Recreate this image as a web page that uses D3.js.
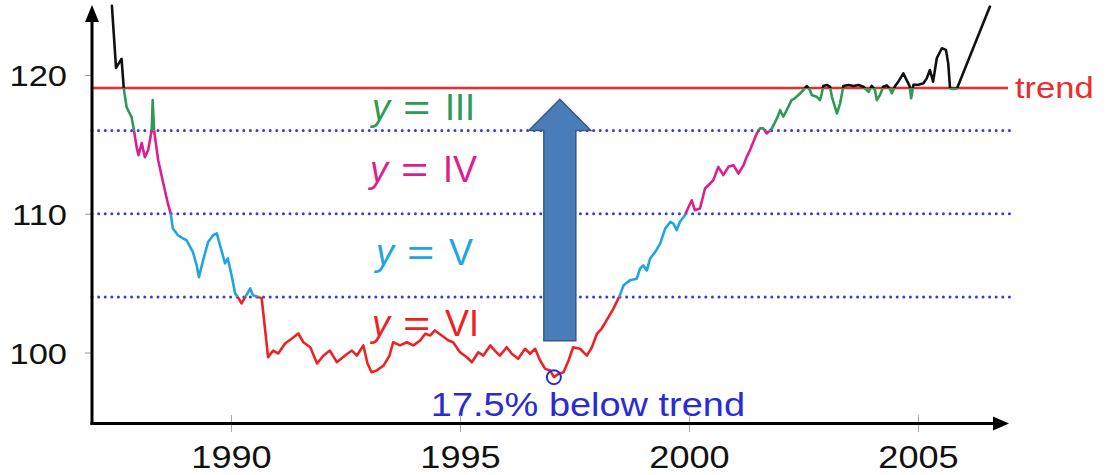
<!DOCTYPE html>
<html>
<head>
<meta charset="utf-8">
<script src="https://cdn.jsdelivr.net/npm/d3@7/dist/d3.min.js"></script>
<style>
  html, body { margin: 0; padding: 0; background: #fff; }
  svg { display: block; }
  text { font-family: "Liberation Sans", Arial, Helvetica, sans-serif; }
</style>
</head>
<body>
<script>
// ---------------- data ----------------
const dates = [
  1987.40,1987.49,1987.61,1987.66,1987.72,1987.83,1987.88,1987.94,1987.98,1988.05,
  1988.12,1988.19,1988.27,1988.29,1988.32,1988.41,1988.49,1988.62,1988.68,1988.73,
  1988.84,1988.95,1989.03,1989.11,1989.17,1989.25,1989.30,1989.39,1989.50,1989.61,
  1989.69,1989.76,1989.87,1989.93,1990.02,1990.09,1990.15,1990.23,1990.31,1990.42,
  1990.48,1990.63,1990.67,1990.81,1990.92,1991.03,1991.18,1991.33,1991.47,1991.58,
  1991.73,1991.88,1992.02,1992.16,1992.31,1992.49,1992.64,1992.75,1992.89,1992.98,
  1993.07,1993.18,1993.33,1993.46,1993.54,1993.69,1993.84,1993.98,1994.13,1994.24,
  1994.35,1994.45,1994.60,1994.75,1994.85,1995.00,1995.15,1995.26,1995.40,1995.51,
  1995.66,1995.76,1995.87,1996.02,1996.13,1996.27,1996.42,1996.53,1996.64,1996.75,
  1996.86,1996.97,1997.05,1997.15,1997.26,1997.37,1997.47,1997.62,1997.77,1997.88,
  1997.99,1998.09,1998.20,1998.35,1998.49,1998.57,1998.71,1998.86,1998.93,1999.00,
  1999.08,1999.15,1999.26,1999.37,1999.48,1999.59,1999.66,1999.73,1999.80,1999.91,
  1999.99,2000.06,2000.13,2000.24,2000.35,2000.46,2000.53,2000.64,2000.75,2000.86,
  2000.97,2001.08,2001.19,2001.26,2001.33,2001.48,2001.55,2001.62,2001.70,2001.81,
  2001.92,2001.99,2002.06,2002.17,2002.24,2002.31,2002.39,2002.50,2002.57,2002.64,
  2002.68,2002.79,2002.86,2002.90,2002.93,2003.01,2003.08,2003.12,2003.23,2003.30,
  2003.37,2003.48,2003.59,2003.70,2003.81,2003.92,2003.99,2004.06,2004.10,2004.17,
  2004.24,2004.32,2004.39,2004.43,2004.50,2004.57,2004.68,2004.75,2004.82,2004.85,
  2004.90,2005.01,2005.12,2005.19,2005.26,2005.33,2005.41,2005.52,2005.61,2005.66,
  2005.70,2005.77,2005.85,2006.57
];
const values = [
  124.98,120.51,121.16,119.00,117.69,116.97,116.03,114.80,114.22,115.09,
  114.08,114.58,116.03,118.19,116.03,113.86,112.66,110.76,110.06,108.95,
  108.45,108.23,108.09,107.60,107.24,106.28,105.42,106.64,107.96,108.45,
  108.59,107.73,106.43,106.79,105.44,104.26,103.99,103.54,103.99,104.62,
  104.12,103.97,103.90,99.66,100.14,99.93,100.65,101.01,101.37,100.74,
  100.38,99.21,99.78,100.14,99.30,99.78,100.14,99.78,100.51,99.21,
  98.58,98.70,99.06,99.78,100.74,100.51,100.74,100.51,100.87,101.35,
  101.23,101.59,101.23,100.87,100.74,100.02,99.66,99.30,100.02,99.78,
  100.51,100.14,99.78,100.38,99.91,99.55,100.27,99.91,100.27,99.42,
  98.82,98.70,98.22,98.46,98.58,99.42,100.38,100.27,99.78,100.38,
  101.35,101.71,102.31,103.16,104.12,104.84,105.20,105.32,106.04,106.28,
  105.92,106.77,107.24,107.85,108.93,109.41,109.29,108.81,109.41,109.89,
  110.49,110.97,110.25,110.38,111.82,112.18,112.42,113.38,112.78,113.38,
  113.50,112.90,113.50,114.10,114.58,115.79,116.15,116.15,115.79,116.15,
  116.87,117.47,116.99,117.71,118.19,118.32,118.56,118.92,119.20,118.92,
  118.56,118.43,118.19,118.68,119.20,119.28,119.15,118.43,117.23,117.96,
  119.20,119.28,119.20,119.28,119.15,118.79,119.22,118.92,118.19,118.56,
  119.15,119.25,118.97,118.68,119.20,119.52,120.12,119.64,119.18,118.32,
  119.30,119.30,119.40,119.76,120.36,119.52,121.21,121.93,121.81,120.84,
  119.03,119.00,119.02,124.93
];
const yTicks = [100, 110, 120];
const xTicks = [1990, 1995, 2000, 2005];
const trendValue = 119.06;
const bandBreaks = [116, 110, 104];
const bandColors = ["#111111", "#2e9a55", "#dc1f8c", "#21a5de", "#ee2222"];
const bandLabels = ["III", "IV", "V", "VI"];
const bandLabelValues = [117.7, 113.2, 107.2, 102.1];
const arrowYear = 1997.18;
const arrowRange = [100.85, 118.25];
const annotationText = "17.5% below trend";
const trendLabel = "trend";

// ---------------- layout ----------------
const W = 1107, H = 475;
const axisX = 92, axisY = 423.5;
const x = d3.scaleLinear().domain([1990, 2005]).range([231, 918]);
const y = d3.scaleLinear().domain([100, 120]).range([352.5, 75]);
const bandLabelX = [372, 370, 376, 372];

const svg = d3.select("body").append("svg").attr("width", W).attr("height", H);
const defs = svg.append("defs");

// band clip regions (top to bottom)
const edges = [0, y(trendValue), ...bandBreaks.map(v => y(v)), H];
bandColors.forEach((c, i) => {
  defs.append("clipPath").attr("id", "band" + i)
    .append("rect").attr("x", 0).attr("width", W)
    .attr("y", edges[i]).attr("height", edges[i + 1] - edges[i]);
});

// dotted band separators
svg.append("g").selectAll("line").data(bandBreaks).join("line")
  .attr("x1", axisX).attr("x2", 1012)
  .attr("y1", d => y(d)).attr("y2", d => y(d))
  .attr("stroke", "#3a3ad6").attr("stroke-width", 3)
  .attr("stroke-linecap", "round").attr("stroke-dasharray", "0 6.6");

// trend line
svg.append("line")
  .attr("x1", axisX).attr("x2", 1008)
  .attr("y1", y(trendValue)).attr("y2", y(trendValue))
  .attr("stroke", "#ee2a2a").attr("stroke-width", 2.5);
svg.append("text")
  .attr("transform", `translate(1015,${y(trendValue) + 10}) scale(1.15,1)`)
  .attr("font-size", 30).attr("fill", "#ee2a2a").text(trendLabel);

// band labels
const lg = svg.append("g");
bandLabels.forEach((lab, i) => {
  const cy = y(bandLabelValues[i]);
  const x0 = bandLabelX[i];
  const col = bandColors[i + 1];
  lg.append("text").attr("x", x0).attr("y", cy).attr("dy", "0.35em")
    .attr("font-size", 36).attr("font-style", "italic").attr("fill", col).text("y");
  lg.append("text").attr("transform", `translate(${x0 + 31},${cy}) scale(1.3,1)`)
    .attr("dy", "0.35em").attr("font-size", 36).attr("fill", col).text("=");
  lg.append("text").attr("x", x0 + 73).attr("y", cy).attr("dy", "0.35em")
    .attr("font-size", 36).attr("fill", col).text(lab);
});

// big arrow
const ax = x(arrowYear);
const tipY = y(arrowRange[1]), baseY = y(bandBreaks[0]), botY = y(arrowRange[0]);
const hw = 31, sw = 16;
svg.append("path")
  .attr("d", `M${ax},${tipY} L${ax + hw},${baseY} L${ax + sw},${baseY} L${ax + sw},${botY} L${ax - sw},${botY} L${ax - sw},${baseY} L${ax - hw},${baseY} Z`)
  .attr("fill", "#4a7cba").attr("stroke", "#35598a").attr("stroke-width", 1.5);

// data line, coloured by band
const pts = dates.map((d, i) => [d, values[i]]);
const line = d3.line().x(d => x(d[0])).y(d => y(d[1])).curve(d3.curveLinear);
bandColors.forEach((c, i) => {
  svg.append("path").datum(pts).attr("d", line)
    .attr("clip-path", `url(#band${i})`)
    .attr("fill", "none").attr("stroke", c).attr("stroke-width", 2.6)
    .attr("stroke-linejoin", "round").attr("stroke-linecap", "round");
});

// minimum marker + annotation
const minIdx = d3.minIndex(values);
const mx = x(dates[minIdx]), my = y(values[minIdx]);
svg.append("circle").attr("cx", mx).attr("cy", my).attr("r", 7)
  .attr("fill", "none").attr("stroke", "#2b2bd6").attr("stroke-width", 2);
svg.append("text")
  .attr("transform", `translate(${mx + 34},${my + 39}) scale(1.15,1)`)
  .attr("text-anchor", "middle").attr("font-size", 33).attr("fill", "#2b2bd6")
  .text(annotationText);

// axes
const gy = svg.append("g").attr("transform", `translate(${axisX},0)`)
  .call(d3.axisLeft(y).tickValues(yTicks).tickSize(7).tickFormat(d3.format("d")));
gy.select(".domain").remove();
gy.selectAll(".tick line").attr("stroke", "#999");
gy.selectAll(".tick text").attr("x", 0).attr("dy", "0.35em")
  .attr("transform", "translate(-25,0) scale(1.15,1)")
  .attr("font-size", 30).attr("fill", "#111").attr("font-family", null);

const gx = svg.append("g").attr("transform", `translate(0,415)`)
  .call(d3.axisBottom(x).tickValues(xTicks).tickSize(17).tickPadding(13).tickFormat(d3.format("d")));
gx.select(".domain").remove();
gx.selectAll(".tick line").attr("stroke", "#aaa");
gx.selectAll(".tick text").attr("transform", "scale(1.13,1)")
  .attr("font-size", 32).attr("fill", "#111").attr("font-family", null);

// axis lines with arrowheads
svg.append("line").attr("x1", axisX).attr("x2", axisX).attr("y1", axisY + 1.5).attr("y2", 18)
  .attr("stroke", "#000").attr("stroke-width", 3);
svg.append("path").attr("d", `M${axisX},5 L${axisX + 7},22 L${axisX - 7},22 Z`).attr("fill", "#000");
svg.append("line").attr("x1", axisX - 1.5).attr("x2", 996).attr("y1", axisY).attr("y2", axisY)
  .attr("stroke", "#000").attr("stroke-width", 3);
svg.append("path").attr("d", `M1009,${axisY} L993,${axisY - 7} L993,${axisY + 7} Z`).attr("fill", "#000");
</script>
</body>
</html>
